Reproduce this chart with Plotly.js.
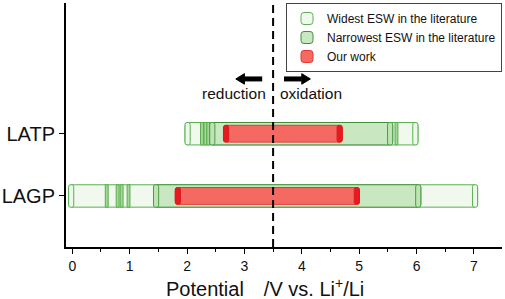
<!DOCTYPE html>
<html>
<head>
<meta charset="utf-8">
<script src="https://cdn.plot.ly/plotly-3.0.1.min.js"></script>
<style>html,body{margin:0;padding:0;background:#fff;}#chart{width:505px;height:299px;}</style>
</head>
<body>
<div id="chart"></div>
<script>
// ---- data ----
const categories = ['LAGP', 'LATP'];
const categoryPos = [0, 1];
const widestLow = [-0.02, 2.01];
const widestHigh = [7.02, 5.98];
const narrowestLow = [1.46, 2.44];
const narrowestHigh = [6.03, 5.54];
const oursLow = [1.84, 2.68];
const oursHigh = [4.96, 4.66];
const stripesLAGP = [0.60, 0.79, 0.86, 0.98];
const stripesLATP = [2.26, 2.32, 2.37, 5.65];
const refPotential = 3.5;
const xTickVals = [0, 1, 2, 3, 4, 5, 6, 7];
const seriesNames = ['Widest ESW in the literature', 'Narrowest ESW in the literature', 'Our work'];

// ---- styling ----
const FONT = 'Arial, "Liberation Sans", sans-serif';
const capW = 0.09;
const barW = 0.36;
const redW = 0.27;

function mainBar(low, high, name, fill, edge, width, group, showlegend) {
  return {
    type: 'bar', orientation: 'h', name: name, legendgroup: group, showlegend: showlegend,
    y: categoryPos, base: low.map(v => v - capW / 2), x: low.map((v, i) => high[i] - v + capW),
    width: width, marker: {color: fill, line: {color: edge, width: 1}, cornerradius: 3},
    hoverinfo: 'skip'
  };
}
function capBars(low, high, fill, edge, width, group) {
  const ends = low.concat(high);
  return {
    type: 'bar', orientation: 'h', legendgroup: group, showlegend: false,
    y: categoryPos.concat(categoryPos), base: ends.map(v => v - capW / 2), x: ends.map(() => capW),
    width: width, marker: {color: fill, line: {color: edge, width: 1}, cornerradius: 2},
    hoverinfo: 'skip'
  };
}
function stripeBars(vals, pos) {
  return {
    type: 'bar', orientation: 'h', legendgroup: 'w', showlegend: false,
    y: vals.map(() => pos), base: vals.map(v => v - 0.025), x: vals.map(() => 0.05),
    width: barW, marker: {color: '#a6d79a', line: {color: '#5aad4e', width: 1}},
    hoverinfo: 'skip'
  };
}

const traces = [
  mainBar(widestLow, widestHigh, seriesNames[0], '#f1f9ef', '#5cb052', barW, 'w', true),
  capBars(widestLow, widestHigh, '#eef8ec', '#5cb052', barW, 'w'),
  stripeBars(stripesLAGP, categoryPos[0]),
  stripeBars(stripesLATP, categoryPos[1]),
  mainBar(narrowestLow, narrowestHigh, seriesNames[1], '#c9e8c1', '#3f8f3a', barW, 'n', true),
  capBars(narrowestLow, narrowestHigh, '#bfe3b5', '#4a9e44', barW, 'n'),
  mainBar(oursLow, oursHigh, seriesNames[2], '#f46a62', '#e53935', redW, 'o', true),
  capBars(oursLow, oursHigh, '#e8191f', '#d81b20', redW, 'o')
];

// direction arrows (layout decoration around the reference potential)
const arrowY = 1.88;
function arrowShapes(dir) {
  const tail = refPotential + dir * 0.19;
  const headBase = refPotential + dir * 0.50;
  const tip = refPotential + dir * 0.65;
  const hh = 0.085;
  return [
    {type: 'line', xref: 'x', yref: 'y', x0: tail, x1: headBase, y0: arrowY, y1: arrowY,
     line: {color: '#000', width: 5}},
    {type: 'path', xref: 'x', yref: 'y',
     path: `M ${headBase} ${arrowY - hh} L ${tip} ${arrowY} L ${headBase} ${arrowY + hh} Z`,
     fillcolor: '#000', line: {color: '#000', width: 1}}
  ];
}

const layout = {
  width: 505, height: 299,
  margin: {l: 66, r: 3, t: 3, b: 52},
  paper_bgcolor: '#fff', plot_bgcolor: '#fff',
  barmode: 'overlay',
  font: {family: FONT, color: '#111'},
  showlegend: true,
  legend: {
    x: 1, xanchor: 'right', y: 1, yanchor: 'top',
    bgcolor: '#fff', bordercolor: '#444', borderwidth: 1,
    font: {family: FONT, size: 12, color: '#111'}, tracegroupgap: 0, itemclick: false
  },
  xaxis: {
    range: [-0.11, 7.49], tickvals: xTickVals, ticktext: xTickVals.map(String),
    showline: true, linecolor: '#000', linewidth: 2, mirror: false,
    ticks: 'outside', ticklen: 5, tickwidth: 1, tickcolor: '#000',
    minor: {dtick: 0.5, tick0: 0, ticks: 'outside', ticklen: 3, tickcolor: '#000'},
    showgrid: false, zeroline: false,
    tickfont: {family: FONT, size: 14, color: '#111'}
  },
  yaxis: {
    range: [-0.82, 3.1], tickvals: categoryPos, ticktext: categories,
    showline: true, linecolor: '#000', linewidth: 2,
    ticks: 'outside', ticklen: 5, tickwidth: 1, tickcolor: '#000',
    showgrid: false, zeroline: false,
    tickfont: {family: FONT, size: 20, color: '#111'}
  },
  shapes: [{
    type: 'line', xref: 'x', yref: 'paper', x0: refPotential, x1: refPotential, y0: 0, y1: 1,
    line: {color: '#000', width: 2, dash: '8px,5px'}
  }].concat(arrowShapes(-1), arrowShapes(1)),
  annotations: [
    {xref: 'x', yref: 'y', x: refPotential - 0.09, y: 1.64, xanchor: 'right', yanchor: 'middle', showarrow: false,
     text: 'reduction', font: {family: FONT, size: 15.5, color: '#111'}},
    {xref: 'x', yref: 'y', x: refPotential + 0.09, y: 1.64, xanchor: 'left', yanchor: 'middle', showarrow: false,
     text: 'oxidation', font: {family: FONT, size: 15.5, color: '#111'}},
    {xref: 'paper', yref: 'paper', x: 0.456, y: -0.165, xanchor: 'center', yanchor: 'middle', showarrow: false,
     text: 'Potential\u2002\u2002/V vs. Li<sup>+</sup>/Li', font: {family: FONT, size: 20, color: '#111'}}
  ]
};

Plotly.newPlot('chart', traces, layout, {staticPlot: true, displayModeBar: false});
</script>
</body>
</html>
